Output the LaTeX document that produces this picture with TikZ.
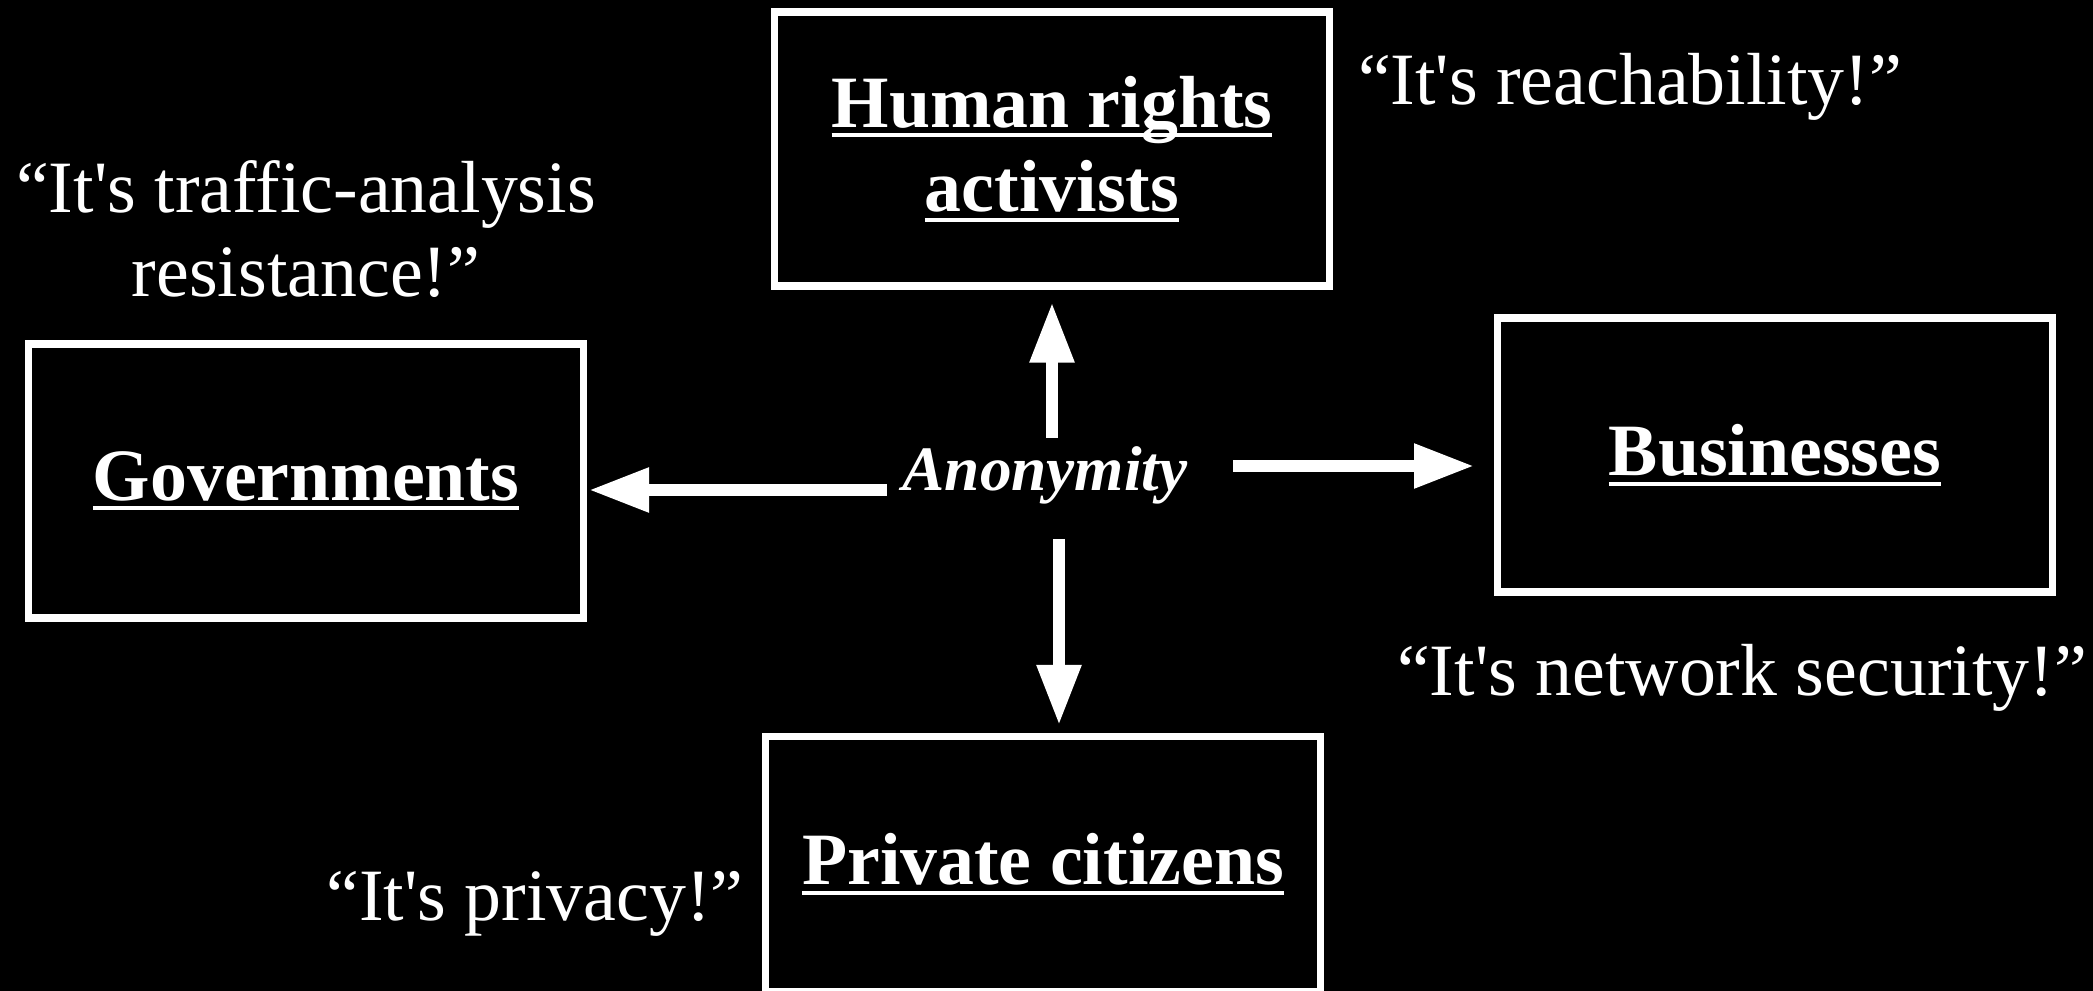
\documentclass[tikz,border=0pt]{standalone}
\usepackage{fontspec}
\setmainfont{Liberation Serif}
\usetikzlibrary{arrows.meta}

% underline at a fixed depth, so descenders cross it
\newcommand{\titleline}[1]{\setbox0\hbox{#1}\rlap{\rule[-2.8pt]{\wd0}{1.1pt}}\box0}

\begin{document}
\begin{tikzpicture}[
	group/.style={draw=white, line width=2pt, minimum width=5.55cm, minimum height=2.74cm,
		text=white, font=\fontsize{21}{24}\selectfont\bfseries, align=center},
	quote/.style={text=white, font=\fontsize{21}{24}\selectfont, align=center},
	bigarrow/.style={white, line width=3.3pt, -{Triangle[width=0.42cm,length=0.6cm]}}
	]
	% háttér
	\fill[black] (0,0) rectangle (20.93,-9.91);
	\useasboundingbox (0,0) rectangle (20.93,-9.91);
	
	% csoportok
	\node[group] (hr) at (10.52,-1.49) {\titleline{Human rights}\\\titleline{activists}};
	\node[group] (gov) at (3.06,-4.81) {\titleline{Governments}};
	\node[group] (bus) at (17.75,-4.55) {\titleline{Businesses}};
	\node[group, minimum height=2.55cm] (pc) at (10.43,-8.64) {\titleline{Private citizens}};
	
	% közép
	\node[text=white, inner sep=0.5mm, font=\fontsize{18}{20}\selectfont\bfseries\itshape] (anon) at (10.45,-4.75) {Anonymity};
	
	% nyilak
	\draw[bigarrow, shorten <=0.37cm, shorten >=0.13cm] (anon.center -| hr.south) -- (hr.south);
	\draw[bigarrow, shorten <=0.64cm, shorten >=0.08cm] ([xshift=1.6mm]anon.center -| pc.north) -- ([xshift=1.6mm]pc.north);
	\draw[bigarrow, shorten <=0.1cm, shorten >=0.02cm] ([yshift=-0.9mm]anon.west |- gov.east) -- ([yshift=-0.9mm]gov.east);
	\draw[bigarrow, shorten <=0.4cm, shorten >=0.2cm] ([yshift=-1.1mm]anon.east |- bus.west) -- ([yshift=-1.1mm]bus.west);
	
	% idézetek
	\node[quote] (reach) at (16.3,-0.87) {“It\textquotesingle s reachability!”};
	\node[quote] (traffic) at (3.06,-2.29) {“It\textquotesingle s traffic-analysis\\resistance!”};
	\node[quote] (netsec) at (17.42,-6.78) {“It\textquotesingle s network security!”};
	\node[quote] (privacy) at (5.35,-9.04) {“It\textquotesingle s privacy!”};
	
\end{tikzpicture}
\end{document}
